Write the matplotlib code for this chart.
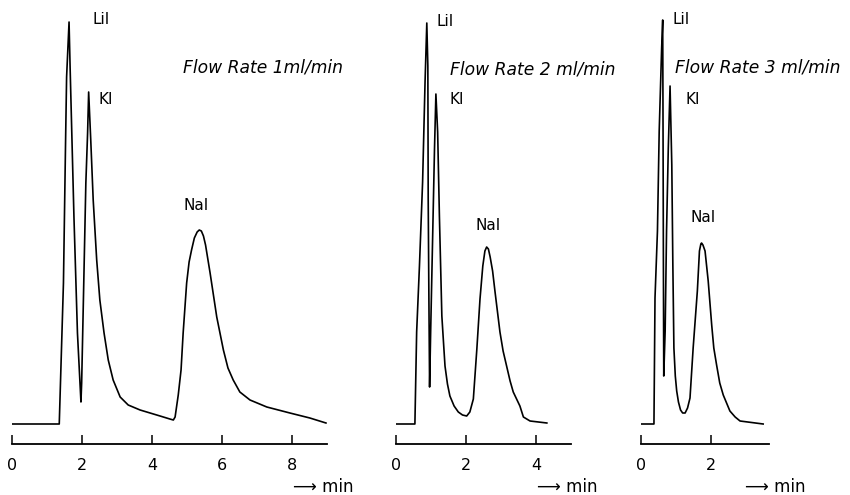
import matplotlib
matplotlib.use("Agg")
import matplotlib.pyplot as plt

plt.rcParams["font.family"] = ["DejaVu Sans"]

# chromatogram traces (time in min, detector signal in arbitrary units)
t1 = [0, 1.35, 1.47, 1.53, 1.56, 1.63, 1.66, 1.77, 1.87, 1.97,
      1.99, 2.04, 2.11, 2.16, 2.19,
      2.25, 2.32, 2.42, 2.51, 2.63, 2.75, 2.89, 3.09, 3.32, 3.66, 4.23, 4.51, 4.61,
      4.66, 4.75, 4.83, 4.89, 4.99, 5.06, 5.13, 5.21, 5.29, 5.35, 5.41, 5.47, 5.53,
      5.66, 5.85, 6.04, 6.17, 6.32, 6.51, 6.80, 7.28, 7.94, 8.51, 8.97]
s1 = [0, 0, 141, 281, 347, 402, 357, 207, 91, 22,
      41, 124, 241, 291, 332,
      284, 224, 164, 124, 91, 64, 44, 27, 19, 14, 8, 5, 4,
      7, 29, 54, 91, 141, 162, 174, 186, 192, 194, 193, 188, 179,
      151, 107, 74, 56, 44, 32, 24, 17, 11, 6, 1]

t2 = [0, 0.54, 0.59, 0.67, 0.76, 0.83, 0.88, 0.91, 0.92, 0.94, 0.96,
      0.99, 1.05, 1.10, 1.14,
      1.19, 1.24, 1.31, 1.36, 1.40, 1.47, 1.54, 1.66, 1.78, 1.90, 2.02,
      2.11, 2.21, 2.31, 2.40, 2.48, 2.54, 2.59, 2.64, 2.69, 2.76, 2.83,
      2.97, 3.06, 3.16, 3.26, 3.35, 3.54, 3.64, 3.83, 4.31]
s2 = [0, 0, 92, 158, 242, 342, 401, 358, 225, 125, 37,
      92, 192, 275, 330,
      292, 208, 108, 80, 58, 40, 28, 18, 12, 9, 8,
      12, 25, 75, 125, 158, 173, 177, 175, 167, 153, 132,
      92, 73, 58, 43, 32, 18, 7, 3, 1]

t3 = [0, 0.37, 0.40, 0.47, 0.52, 0.59, 0.62, 0.63, 0.64, 0.65,
      0.69, 0.73, 0.78, 0.83,
      0.88, 0.91, 0.94, 0.98, 1.02, 1.07, 1.13, 1.19, 1.26, 1.33,
      1.40, 1.49, 1.61, 1.67, 1.71, 1.73, 1.77, 1.83, 1.92,
      2.02, 2.08, 2.16, 2.25, 2.35, 2.54, 2.69, 2.83, 3.49]
s3 = [0, 0, 126, 193, 293, 376, 404, 293, 159, 48,
      93, 193, 276, 338,
      259, 159, 76, 48, 33, 22, 14, 11, 11, 16,
      26, 76, 133, 173, 180, 181, 179, 173, 143,
      99, 76, 59, 41, 29, 13, 7, 3, 0]

flow_labels = ["Flow Rate 1ml/min", "Flow Rate 2 ml/min", "Flow Rate 3 ml/min"]
ticks = [[0, 2, 4, 6, 8], [0, 2, 4], [0, 2]]
xmax = [9, 5, 3.65]

# peak label positions (time, signal) for LiI, KI, NaI and the flow rate text
label_pos = [
    {"LiI": (2.29, 404), "KI": (2.46, 325), "NaI": (4.89, 219), "flow": (4.89, 357)},
    {"LiI": (1.17, 402), "KI": (1.54, 324), "NaI": (2.26, 199), "flow": (1.54, 355)},
    {"LiI": (0.89, 404), "KI": (1.26, 324), "NaI": (1.40, 206), "flow": (0.97, 356)},
]

W, H = 850, 495
fig = plt.figure(figsize=(W / 100, H / 100), dpi=100)

lefts = [12, 396, 641]
px_per_min = 35
bottom_px = 444
top_px = 5

traces = [(t1, s1), (t2, s2), (t3, s3)]
for i, (t, s) in enumerate(traces):
    w = xmax[i] * px_per_min
    ax = fig.add_axes([lefts[i] / W, (H - bottom_px) / H, w / W, (bottom_px - top_px) / H])
    ax.plot(t, s, color="black", lw=1.2, solid_joinstyle="round")
    ax.set_xlim(0, xmax[i])
    ax.set_ylim(-20, bottom_px - top_px - 20)
    for sp in ["left", "right", "top"]:
        ax.spines[sp].set_visible(False)
    ax.spines["bottom"].set_linewidth(1.3)
    ax.set_yticks([])
    ax.set_xticks(ticks[i])
    ax.tick_params(axis="x", direction="in", length=6.5, width=1.1, pad=10, labelsize=11.5)
    ax.patch.set_alpha(0)

    lp = label_pos[i]
    for name in ["LiI", "KI", "NaI"]:
        ax.text(lp[name][0], lp[name][1], name, fontsize=11, ha="left", va="center")
    ax.text(lp["flow"][0], lp["flow"][1], flow_labels[i], fontsize=12.3,
            style="oblique", ha="left", va="center")

# "-> min" under each time axis
for x in [293, 537, 745]:
    fig.text(x / W, 1 - 487 / H, "\u27f6 min", fontsize=12, ha="left", va="center")

fig.savefig("out.png", dpi=100)
